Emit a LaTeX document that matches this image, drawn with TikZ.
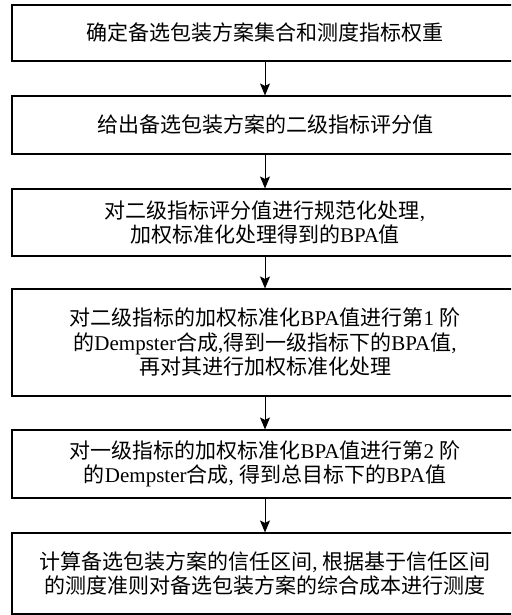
\documentclass[tikz,border=0pt]{standalone}
\usepackage{fontspec}
\setmainfont{Liberation Serif}
\newfontfamily\cjk{Noto Sans CJK SC}
\usetikzlibrary{arrows.meta}
\newcommand\lat[1]{{\rmfamily #1}}
\begin{document}
\begin{tikzpicture}[x=1pt,y=-1pt,
  box/.style={draw, line width=1.1pt, minimum width=506pt, inner sep=0pt, align=center,
    font=\cjk\fontsize{21}{24.5}\selectfont},
  arr/.style={-{Stealth[length=12pt,width=10pt,inset=2.5pt]}, line width=1pt}]
\useasboundingbox (0,0) rectangle (511,615);
\clip (0,0) rectangle (511,615);
\node[box, minimum height=56pt] (b1) at (265,33) {确定备选包装方案集合和测度指标权重};
\node[box, minimum height=58pt] (b2) at (265,125) {给出备选包装方案的二级指标评分值};
\node[box, minimum height=67pt] (b3) at (265,222.5) {对二级指标评分值进行规范化处理\lat{,}\\加权标准化处理得到的\lat{BPA}值};
\node[box, minimum height=107pt] (b4) at (265,342.5) {对二级指标的加权标准化\lat{BPA}值进行第\lat{1 }阶\\的\lat{Dempster}合成\lat{,}得到一级指标下的\lat{BPA}值\lat{,}\\再对其进行加权标准化处理};
\node[box, minimum height=68pt] (b5) at (265,464) {对一级指标的加权标准化\lat{BPA}值进行第\lat{2 }阶\\的\lat{Dempster}合成\lat{, }得到总目标下的\lat{BPA}值};
\node[box, minimum height=81pt] (b6) at (265,573.5) {计算备选包装方案的信任区间\lat{, }根据基于信任区间\\的测度准则对备选包装方案的综合成本进行测度};
\draw[arr] (b1) -- (b2);
\draw[arr] (b2) -- (b3);
\draw[arr] (b3) -- (b4);
\draw[arr] (b4) -- (b5);
\draw[arr] (b5) -- (b6);
\end{tikzpicture}
\end{document}
